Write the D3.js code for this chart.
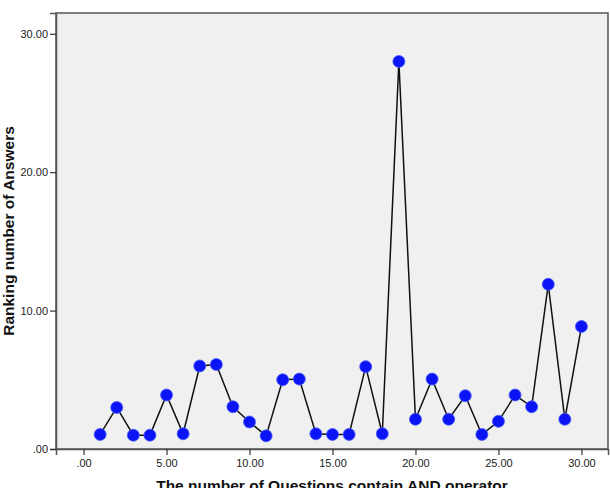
<!DOCTYPE html>
<html>
<head>
<meta charset="utf-8">
<script src="https://cdn.jsdelivr.net/npm/d3@7"></script>
<style>
  body { margin: 0; background: #fff; }
  svg { display: block; font-family: Arial, 'Liberation Sans', sans-serif; }
</style>
</head>
<body>
<div id="chart"></div>
<script>
// Data

var questions = d3.range(1, 31)

var rankings = [
  1.05, 3.0, 1.0, 1.0, 3.9, 1.1, 6.0, 6.1, 3.05, 1.95,
  0.95, 5.0, 5.05, 1.1, 1.05, 1.05, 5.95, 1.1, 28.0, 2.15,
  5.05, 2.15, 3.85, 1.05, 2.0, 3.9, 3.05, 11.9, 2.15, 8.85
]

var xTicks = [0, 5, 10, 15, 20, 25, 30]
var yTicks = [0, 10, 20, 30]

// Set up margin/height/width

var margin = { top: 13, left: 56, right: 2, bottom: 39 }
var width = 610 - margin.left - margin.right
var height = 488 - margin.top - margin.bottom

var svg = d3
  .select('#chart')
  .append('svg')
  .attr('width', 610)
  .attr('height', 488)
  .append('g')
  .attr('transform', 'translate(' + margin.left + ',' + margin.top + ')')

var datapoints = questions.map((q, i) => ({ q: q, rank: rankings[i] }))

// Scales

var xPositionScale = d3.scaleLinear().domain([-1.66, 31.6]).range([0, width])
var yPositionScale = d3.scaleLinear().domain([0, 31.5]).range([height, 0])

// Plot background

svg
  .append('rect')
  .attr('width', width)
  .attr('height', height)
  .attr('fill', '#f0f0f0')
  .attr('stroke', '#555')
  .attr('stroke-width', 1.5)

// Line

var line = d3
  .line()
  .x(d => xPositionScale(d.q))
  .y(d => yPositionScale(d.rank))

svg
  .append('path')
  .datum(datapoints)
  .attr('d', line)
  .attr('fill', 'none')
  .attr('stroke', '#111')
  .attr('stroke-width', 1.5)

// Circles

svg
  .selectAll('.dot')
  .data(datapoints)
  .enter()
  .append('circle')
  .attr('class', 'dot')
  .attr('cx', d => xPositionScale(d.q))
  .attr('cy', d => yPositionScale(d.rank))
  .attr('r', 6)
  .attr('fill', '#0a14f5')
  .attr('stroke', '#4a5cf8')
  .attr('stroke-width', 0.8)

// Axes

var xAxis = d3
  .axisBottom(xPositionScale)
  .tickValues(xTicks)
  .tickSize(6)
  .tickPadding(4)
  .tickFormat(d => (d === 0 ? '.00' : d3.format('.2f')(d)))

svg
  .append('g')
  .attr('class', 'axis x-axis')
  .attr('transform', 'translate(0,' + height + ')')
  .call(xAxis)

var yAxis = d3
  .axisLeft(yPositionScale)
  .tickValues(yTicks)
  .tickSize(6)
  .tickPadding(2)
  .tickFormat(d => (d === 0 ? '.00' : d3.format('.2f')(d)))

svg
  .append('g')
  .attr('class', 'axis y-axis')
  .call(yAxis)

svg.selectAll('.axis .domain').attr('stroke', '#555').attr('stroke-width', 1.5)
svg.selectAll('.axis .tick line').attr('stroke', '#333').attr('stroke-width', 1.2)
svg
  .selectAll('.axis .tick text')
  .attr('font-size', 11)
  .attr('fill', '#222')
  .attr('font-family', 'Arial, Liberation Sans, sans-serif')

// Axis titles

svg
  .append('text')
  .text('The number of Questions contain AND operator')
  .attr('x', width / 2)
  .attr('y', height + 42)
  .attr('text-anchor', 'middle')
  .attr('font-size', 15.5)
  .attr('font-weight', 'bold')
  .attr('fill', '#111')

svg
  .append('text')
  .text('Ranking number of Answers')
  .attr('transform', 'translate(' + (-42) + ',' + height / 2 + ') rotate(-90)')
  .attr('text-anchor', 'middle')
  .attr('font-size', 15.5)
  .attr('font-weight', 'bold')
  .attr('fill', '#111')
</script>
</body>
</html>
